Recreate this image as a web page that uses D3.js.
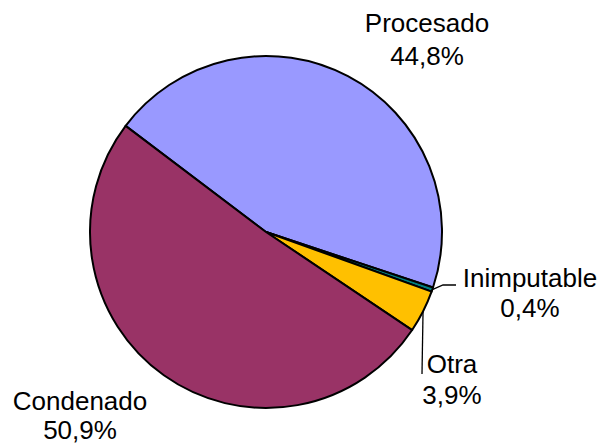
<!DOCTYPE html>
<html lang="en">
<head>
  <meta charset="utf-8">
  <title>Pie</title>
  <script src="https://cdn.jsdelivr.net/npm/d3@7"></script>
  <style>
  body{ margin:0; background:#fff; }
  .lbl{ font-family:"Liberation Sans", Arial, sans-serif; font-size:26px; fill:#000; }
  </style>
</head>
<body>
  <script>
  // data
  var categories = ["Procesado", "Inimputable", "Otra", "Condenado"];
  var values = [44.8, 0.4, 3.9, 50.9];
  var valueLabels = ["44,8%", "0,4%", "3,9%", "50,9%"];
  var colors = ["#9999ff", "#008080", "#ffc000", "#993366"];

  var width = 609;
  var height = 445;
  var cx = 266, cy = 232, radius = 176;

  var svg = d3.select("body")
  .append("svg")
  .attr("width", width)
  .attr("height", height);

  var g = svg.append("g")
  .attr("transform", "translate(" + cx + "," + cy + ")");

  // first slice starts up-left, runs clockwise
  var start = -52.9 * Math.PI / 180;
  var pie = d3.pie()
  .sort(null)
  .startAngle(start)
  .endAngle(start + 2 * Math.PI);

  var arc = d3.arc().innerRadius(0).outerRadius(radius);
  var arcs = pie(values);

  g.selectAll("path")
  .data(arcs)
  .enter()
  .append("path")
  .attr("d", arc)
  .attr("fill", function(d, i){ return colors[i]; })
  .attr("stroke", "#000")
  .attr("stroke-width", 2)
  .attr("stroke-linejoin", "round");

  // label layout (x center, first baseline, line gap)
  var labelPos = [[427, 32, 33], [530, 287, 30], [452, 373, 31], [80, 410, 29]];

  // leader lines for the small slices: slice index + points after the arc
  var leaders = [
    [1, [[443, 285], [456, 285]]],
    [2, [[422, 374]]]
  ];

  leaders.forEach(function(l){
    var d = arcs[l[0]];
    var a = (d.startAngle + d.endAngle) / 2;
    var p0 = [cx + radius * Math.sin(a), cy - radius * Math.cos(a)];
    svg.append("path")
    .attr("d", d3.line()([p0].concat(l[1])))
    .attr("fill", "none")
    .attr("stroke", "#000")
    .attr("stroke-width", 1.3);
  });

  var labels = svg.selectAll("text.lbl")
  .data(categories)
  .enter()
  .append("text")
  .attr("class", "lbl")
  .attr("text-anchor", "middle")
  .attr("x", function(d, i){ return labelPos[i][0]; })
  .attr("y", function(d, i){ return labelPos[i][1]; });

  labels.append("tspan")
  .attr("x", function(d, i){ return labelPos[i][0]; })
  .text(function(d){ return d; });

  labels.append("tspan")
  .attr("x", function(d, i){ return labelPos[i][0]; })
  .attr("dy", function(d, i){ return labelPos[i][2]; })
  .text(function(d, i){ return valueLabels[i]; });
  </script>
</body>
</html>
